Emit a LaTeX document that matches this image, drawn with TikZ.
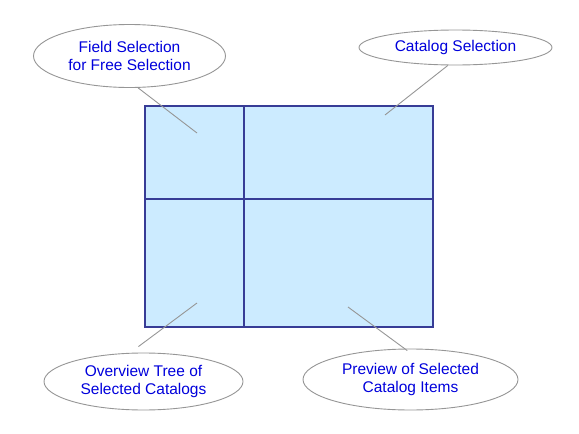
\documentclass[tikz,border=0pt]{standalone}
\usepackage{fontspec}
\setmainfont{Liberation Sans}
\usetikzlibrary{shapes.geometric}
\definecolor{fillblue}{RGB}{204,235,255}
\definecolor{framenavy}{RGB}{55,60,150}
\definecolor{textblue}{RGB}{0,0,220}
\definecolor{linegray}{RGB}{150,150,150}
\definecolor{ellgray}{RGB}{150,150,150}
\tikzset{
  bubble/.style={ellipse, draw=ellgray, line width=0.9pt, fill=white, inner sep=0pt,
    text=textblue, align=center, font=\fontsize{15.5}{18}\selectfont},
  pointer/.style={draw=linegray, line width=0.9pt},
  frame/.style={draw=framenavy, line width=1.3pt}
}
\begin{document}
\begin{tikzpicture}[x=1pt,y=-1pt]
\useasboundingbox (0,0) rectangle (579,434);
% main panel
\path[frame, fill=fillblue] (145,106) coordinate (tl) rectangle (433,327) coordinate (br);
\coordinate (vtop) at (244,106);
\coordinate (vbot) at (244,327);
\coordinate (hl) at (145,199);
\coordinate (hr) at (433,199);
\draw[frame] (vtop) -- (vbot);
\draw[frame] (hl) -- (hr);
% bubbles
\node[bubble, minimum width=192pt, minimum height=63pt] (field) at (129.5,56) {Field Selection\\for Free Selection};
\node[bubble, minimum width=193pt, minimum height=35pt] (catalog) at (455.5,47.5) {Catalog Selection};
\node[bubble, minimum width=199pt, minimum height=57pt] (tree) at (143.5,381.5) {Overview Tree of\\Selected Catalogs};
\node[bubble, minimum width=215pt, minimum height=61pt] (preview) at (410.5,379.5) {Preview of Selected\\Catalog Items};
% pointer targets
\coordinate (pf) at (197,133);
\coordinate (pc) at (385,115);
\coordinate (pt) at (197,303);
\coordinate (pp) at (348,307);
\draw[pointer] (field.-75) -- (pf);
\draw[pointer] (catalog.-113) -- (pc);
\draw[pointer] ([yshift=6pt]tree.100) -- (pt);
\draw[pointer] ([yshift=-2pt]preview.96) -- (pp);
\end{tikzpicture}
\end{document}
